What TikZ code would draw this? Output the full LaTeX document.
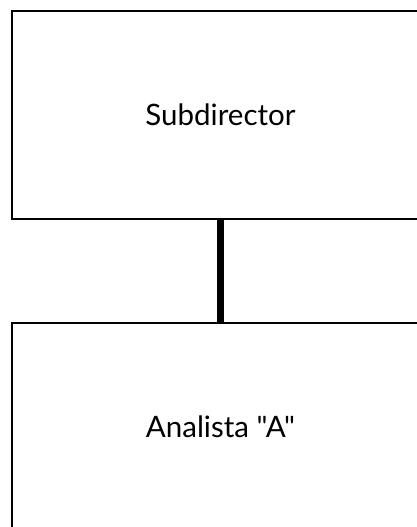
\documentclass[tikz,border=0pt]{standalone}
\usepackage{fontspec}
\setmainfont{Lato}[Ligatures=TeXOff]
\begin{document}
\begin{tikzpicture}[x=1pt,y=1pt,
  orgbox/.style={draw=black, line width=2.5pt, fill=white, minimum width=417pt, minimum height=208pt, inner sep=0pt, font=\fontsize{29.5}{35}\selectfont},
  link/.style={line width=6.5pt, black}]
\useasboundingbox (0,0) rectangle (417,-527);
\clip (0,0) rectangle (417,-527);
\fill[white] (0,0) rectangle (417,-527);
\node[orgbox] (sub) at (220.5,-115) {Subdirector};
\node[orgbox] (ana) at (220.5,-427) {Analista "A"};
\draw[link] (sub.south) -- (ana.north);
\end{tikzpicture}
\end{document}
